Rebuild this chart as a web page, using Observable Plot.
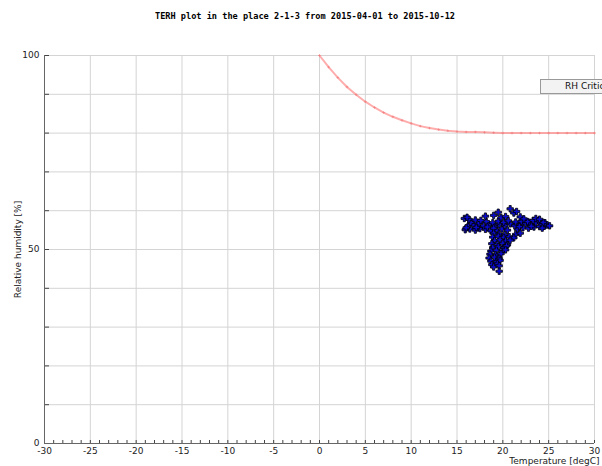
<!DOCTYPE html>
<html>
<head>
<meta charset="utf-8">
<script src="https://cdn.jsdelivr.net/npm/d3@7"></script>
<script src="https://cdn.jsdelivr.net/npm/@observablehq/plot@0.6"></script>
<style>
  body { margin: 0; background: #fff; }
  #wrap { position: relative; width: 602px; height: 466px; overflow: hidden; }
  #title {
    position: absolute; top: 11px; left: 0; width: 610px; text-align: center;
    font: bold 8.6px "DejaVu Sans Mono", monospace; color: #000; white-space: pre;
  }
  #legend {
    position: absolute; left: 540px; top: 79px; width: 100px; height: 13px;
    border: 1px solid #999; background: #f3f3f3; box-sizing: content-box;
    font: 9px "DejaVu Sans", sans-serif; color: #111; line-height: 13px;
    padding-left: 24px; white-space: nowrap;
  }
</style>
</head>
<body>
<div id="wrap">
  <div id="chart"></div>
  <div id="title">TERH plot in the place 2-1-3 from 2015-04-01 to 2015-10-12</div>
  <div id="legend">RH Critical</div>
</div>
<script>
// Critical relative humidity limit [%] against temperature [degC]
const criticalT  = [0, 1, 2, 3, 4, 5, 6, 7, 8, 9, 10, 11, 12, 13, 14, 15, 16, 17, 18, 19, 20,
                    21, 22, 23, 24, 25, 26, 27, 28, 29, 30];
const criticalRH = [100, 97.0, 94.3, 91.9, 89.9, 88.1, 86.6, 85.3, 84.2, 83.3, 82.5, 81.8, 81.3,
                    80.9, 80.6, 80.4, 80.3, 80.3, 80.2, 80.1, 80.0,
                    80.0, 80.0, 80.0, 80.0, 80.0, 80.0, 80.0, 80.0, 80.0, 80.0];

// Measured readings: [temperature degC, relative humidity %]
const bandReadings = [
  [15.9,55.1],[16.4,55.3],[17.0,55.0],[17.5,55.4],[18.1,55.2],[18.7,54.8],[19.3,55.0],[19.9,55.3],
  [20.5,55.0],[21.6,55.2],[22.2,55.6],[22.8,55.5],[23.4,55.8],[24.0,55.9],[24.5,56.0],
  [16.2,56.0],[16.8,56.3],[17.3,55.9],[17.9,56.1],[18.5,56.4],[19.1,56.0],[19.6,56.5],[20.2,56.2],
  [20.8,56.6],[21.3,56.1],[21.9,56.5],[22.5,56.8],[23.0,56.4],[23.6,56.9],[24.2,56.6],[24.8,56.3],
  [25.1,56.1],[24.6,56.9],[22.9,57.0],
  [16.5,57.0],[17.4,56.8],[18.2,57.2],[18.9,56.9],[19.5,57.3],[20.1,57.0],[20.6,57.4],[21.4,57.1],
  [22.0,57.3],[22.7,57.2],[23.3,57.5],[23.9,57.4],[24.4,57.0],
  [16.0,55.6],[17.1,55.7],[18.3,55.8],[19.0,55.5],[21.8,55.9],[23.1,56.0],[24.3,55.5]
];
const upperReadings = [
  [15.8,58.0],[16.3,57.8],[16.1,58.3],[17.0,57.6],[17.6,57.5],[18.1,58.6],[19.0,58.8],[19.5,59.6],
  [19.8,58.2],[20.3,58.5],[20.8,60.5],[21.2,59.4],[21.5,59.8],[21.9,58.4],[22.3,57.9],[23.6,58.0],
  [24.0,57.8]
];
const stemReadings = [
  [19.0,54.2],[19.6,54.0],[20.2,53.8],[21.4,53.9],[21.9,54.2],
  [18.9,53.2],[19.5,53.4],[20.1,53.1],[20.7,53.3],[21.2,53.0],
  [19.1,52.3],[19.7,52.5],[20.3,52.2],[20.8,52.4],
  [18.8,51.5],[19.4,51.3],[20.0,51.6],[20.5,51.2],
  [18.9,50.5],[19.5,50.7],[20.1,50.4],[20.4,50.9],
  [18.7,49.6],[19.3,49.8],[19.9,49.5],[20.3,49.9],
  [18.6,48.8],[19.2,48.6],[19.8,48.9],
  [18.5,47.8],[19.1,48.0],[19.6,47.7],
  [18.7,47.0],[19.3,46.8],[19.7,47.2],
  [18.8,46.1],[19.4,46.3],
  [19.0,45.5],[19.6,45.8],
  [19.6,44.4]
];

const xLabelTicks = d3.range(-30, 31, 5);
const xMinorTicks = d3.range(-30, 31, 1);
const yLabelTicks = [0, 50, 100];
const yMinorTicks = d3.range(0, 101, 10);

const critical = criticalT.map((t, i) => ({t, rh: criticalRH[i]}));
const readings = [...bandReadings, ...upperReadings, ...stemReadings].map(([t, rh]) => ({t, rh}));

// plain hyphen-minus for negative tick labels
const plain = (d) => `${d}`;

const chart = Plot.plot({
  width: 602,
  height: 466,
  marginTop: 55,
  marginRight: 8,
  marginBottom: 23,
  marginLeft: 44,
  style: {fontFamily: "DejaVu Sans, sans-serif", fontSize: "9px", color: "#222", background: "transparent"},
  x: {domain: [-30, 30]},
  y: {domain: [0, 100]},
  marks: [
    Plot.gridX(xLabelTicks, {stroke: "#d4d4d4", strokeOpacity: 1}),
    Plot.gridY(yMinorTicks, {stroke: "#d4d4d4", strokeOpacity: 1}),
    Plot.axisX({ticks: xMinorTicks, tickSize: -3, tickFormat: () => "", label: null, stroke: "#444"}),
    Plot.axisX({ticks: xLabelTicks, tickSize: 0, tickPadding: 4, tickFormat: plain, fill: "#222",
      label: "Temperature [degC]", labelAnchor: "right", labelArrow: "none", labelOffset: 20, labelDx: -6}),
    Plot.axisY({ticks: yMinorTicks, tickSize: -5, tickFormat: () => "", label: null, stroke: "#444"}),
    Plot.axisY({ticks: yLabelTicks, tickSize: 0, tickPadding: 5, tickFormat: plain, fill: "#222",
      label: "Relative humidity [%]", labelAnchor: "center", labelArrow: "none", labelOffset: 30}),
    Plot.ruleX([-30], {stroke: "#666"}),
    Plot.ruleY([0], {stroke: "#666"}),
    Plot.line(critical, {x: "t", y: "rh", stroke: "#ff8a8a", strokeWidth: 2, strokeOpacity: 0.7}),
    Plot.dot(critical, {x: "t", y: "rh", symbol: "plus", r: 0.9, stroke: "#f07878", strokeWidth: 1, strokeOpacity: 0.6}),
    Plot.dot(readings, {x: "t", y: "rh", symbol: "cross", r: 2.7, fill: "#0a0ad0", stroke: "#000", strokeWidth: 0.8})
  ]
});
document.getElementById("chart").appendChild(chart);
</script>
</body>
</html>
